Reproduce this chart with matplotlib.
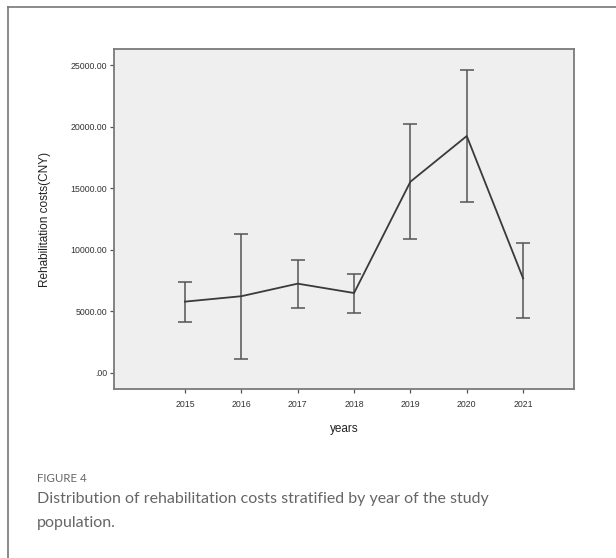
import matplotlib.pyplot as plt
from matplotlib.lines import Line2D

# values
years = [2015, 2016, 2017, 2018, 2019, 2020, 2021]
mean_cost = [5790, 6230, 7250, 6490, 15530, 19240, 7680]
lower_ci = [4160, 1140, 5300, 4900, 10880, 13910, 4490]
upper_ci = [7390, 11280, 9150, 8060, 20210, 24590, 10580]
y_ticks = [0, 5000, 10000, 15000, 20000, 25000]

err_lo = [m - lo for m, lo in zip(mean_cost, lower_ci)]
err_hi = [hi - m for m, hi in zip(mean_cost, upper_ci)]

fig = plt.figure(figsize=(6.16, 5.58), dpi=100)
ax = fig.add_axes([0.185, 0.303, 0.747, 0.609])
ax.set_facecolor("#efefef")

ax.errorbar(years, mean_cost, yerr=[err_lo, err_hi], fmt="none",
            ecolor="#555555", elinewidth=1.1, capsize=5, capthick=1.1)
ax.plot(years, mean_cost, color="#3a3a3a", linewidth=1.3)

ax.set_xlim(2013.74, 2021.905)
ax.set_ylim(-1300, 26300)
ax.set_xticks(years)
ax.set_xticklabels([str(y) for y in years])
ax.set_yticks(y_ticks)
ax.set_yticklabels(["%.2f" % v if v else ".00" for v in y_ticks])

for s in ax.spines.values():
    s.set_color("#7a7a7a")
    s.set_linewidth(1.3)
ax.tick_params(direction="out", length=3, width=0.9, color="#555555",
               labelsize=6.3, labelcolor="#333333", pad=2)
ax.tick_params(axis="x", pad=5)
for lbl in ax.get_xticklabels() + ax.get_yticklabels():
    lbl.set_family("Liberation Sans")

ax.set_ylabel("Rehabilitation costs(CNY)", fontsize=8.5, family="Liberation Sans",
              color="#222222", labelpad=14)
ax.set_xlabel("years", fontsize=8.5, family="Liberation Sans", color="#222222",
              labelpad=10)

# outer frame (top and left edges only, the rest is cropped off)
fig.add_artist(Line2D([8 / 616, 8 / 616], [0, 1 - 7 / 558], color="#777777", linewidth=1.2))
fig.add_artist(Line2D([8 / 616, 1], [1 - 7 / 558, 1 - 7 / 558], color="#777777", linewidth=1.2))

fig.text(37 / 616, 1 - 478 / 558, "FIGURE 4", fontsize=8.3, family="Lato",
         color="#666666", va="center")
fig.text(37 / 616, 1 - 511 / 558,
         "Distribution of rehabilitation costs stratified by year of the study\npopulation.",
         fontsize=11.5, family="Lato", color="#666666", va="center", linespacing=1.85)

fig.savefig("out.png", dpi=100)
